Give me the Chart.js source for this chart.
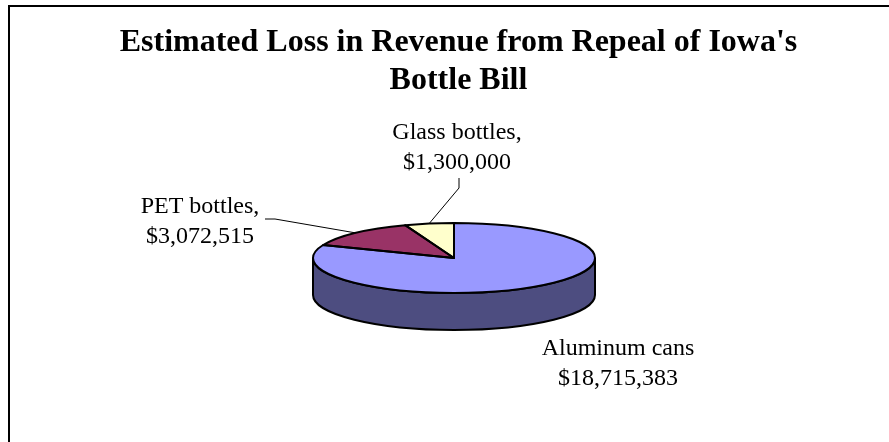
<!DOCTYPE html>
<html lang="en">
<head>
  <meta charset="UTF-8">
  <title>Estimated Loss in Revenue from Repeal of Iowa's Bottle Bill</title>
  <script src="https://cdn.jsdelivr.net/npm/chart.js"></script>
  <style>
    body { margin: 0; background: #fff; overflow: hidden; }
    .frame { position: absolute; left: 8px; top: 5px; width: 900px; height: 460px;
             border-left: 2px solid #000; border-top: 2px solid #000; }
    .wrap { position: absolute; left: 0; top: 0; width: 889px; height: 442px; }
  </style>
</head>
<body>
  <div class="frame"></div>
  <div class="wrap"><canvas id="pie"></canvas></div>

  <script>
    // data
    const categories = ['Aluminum cans', 'PET bottles', 'Glass bottles'];
    const revenueLoss = [18715383, 3072515, 1300000];
    const topColors = ['#9999ff', '#993366', '#ffffcc'];
    const sideColors = ['#4d4d80', '#4d1a33', '#808066'];

    // where the tilted pie sits on the page
    const PIE_CX = 454, PIE_CY = 258, PIE_RX = 141, PIE_RY = 35, PIE_DEPTH = 37;

    // label placement (text centre x, first baseline y, leader anchor near the text)
    const labelPos = [
      { x: 618, y: 355, lead: null },
      { x: 200, y: 213, lead: [[265, 219], [275, 219]] },
      { x: 457, y: 139, lead: [[459, 178], [459, 188]] }
    ];

    function fmt(v) { return '$' + v.toLocaleString('en-US'); }

    const pie3d = {
      id: 'pie3d',
      beforeDatasetsDraw(chart) {
        const ctx = chart.ctx;
        const arcs = chart.getDatasetMeta(0).data;
        ctx.lineWidth = 2;
        ctx.strokeStyle = '#000';
        // front walls, only the part facing the viewer
        arcs.forEach((arc, i) => {
          const a1 = Math.max(arc.startAngle, 0);
          const a2 = Math.min(arc.endAngle, Math.PI);
          if (a2 <= a1) return;
          ctx.beginPath();
          ctx.ellipse(PIE_CX, PIE_CY, PIE_RX, PIE_RY, 0, a1, a2);
          ctx.ellipse(PIE_CX, PIE_CY + PIE_DEPTH, PIE_RX, PIE_RY, 0, a2, a1, true);
          ctx.closePath();
          ctx.fillStyle = sideColors[i];
          ctx.fill();
          ctx.stroke();
        });
        // squash the library's round pie into the top ellipse
        const a = arcs[0];
        ctx.save();
        ctx.translate(PIE_CX, PIE_CY);
        ctx.scale(PIE_RX / a.outerRadius, PIE_RY / a.outerRadius);
        ctx.translate(-a.x, -a.y);
      },
      afterDatasetsDraw(chart) {
        const ctx = chart.ctx;
        ctx.restore();
        const arcs = chart.getDatasetMeta(0).data;
        ctx.save();
        ctx.lineWidth = 2;
        ctx.strokeStyle = '#000';
        ctx.lineJoin = 'round';
        arcs.forEach(arc => {
          ctx.beginPath();
          ctx.moveTo(PIE_CX, PIE_CY);
          ctx.ellipse(PIE_CX, PIE_CY, PIE_RX, PIE_RY, 0, arc.startAngle, arc.endAngle);
          ctx.closePath();
          ctx.stroke();
        });
        ctx.restore();
      },
      afterDraw(chart) {
        const ctx = chart.ctx;
        const arcs = chart.getDatasetMeta(0).data;
        ctx.save();
        ctx.font = '24px "Liberation Serif"';
        ctx.fillStyle = '#000';
        ctx.textAlign = 'center';
        ctx.textBaseline = 'alphabetic';
        categories.forEach((name, i) => {
          const p = labelPos[i];
          ctx.fillText(name + (i === 0 ? '' : ','), p.x, p.y);
          ctx.fillText(fmt(revenueLoss[i]), p.x, p.y + 30);
          if (p.lead) {
            const arc = arcs[i];
            const mid = (arc.startAngle + arc.endAngle) / 2;
            ctx.beginPath();
            ctx.moveTo(p.lead[0][0], p.lead[0][1]);
            ctx.lineTo(p.lead[1][0], p.lead[1][1]);
            ctx.lineTo(PIE_CX + PIE_RX * Math.cos(mid), PIE_CY + PIE_RY * Math.sin(mid));
            ctx.lineWidth = 1;
            ctx.strokeStyle = '#000';
            ctx.stroke();
          }
        });
        ctx.restore();
      }
    };

    new Chart(document.getElementById('pie'), {
      type: 'pie',
      data: {
        labels: categories,
        datasets: [{ data: revenueLoss, backgroundColor: topColors, borderWidth: 0 }]
      },
      options: {
        responsive: true,
        maintainAspectRatio: false,
        animation: false,
        events: [],
        layout: { padding: { left: 28, top: 0, right: 0, bottom: 60 } },
        plugins: {
          legend: { display: false },
          tooltip: { enabled: false },
          title: {
            display: true,
            text: ["Estimated Loss in Revenue from Repeal of Iowa's", 'Bottle Bill'],
            color: '#000',
            font: { family: 'Liberation Serif', size: 32, weight: 'bold', lineHeight: 1.18 },
            padding: { top: 24, bottom: 20 }
          }
        }
      },
      plugins: [pie3d]
    });
  </script>
</body>
</html>
